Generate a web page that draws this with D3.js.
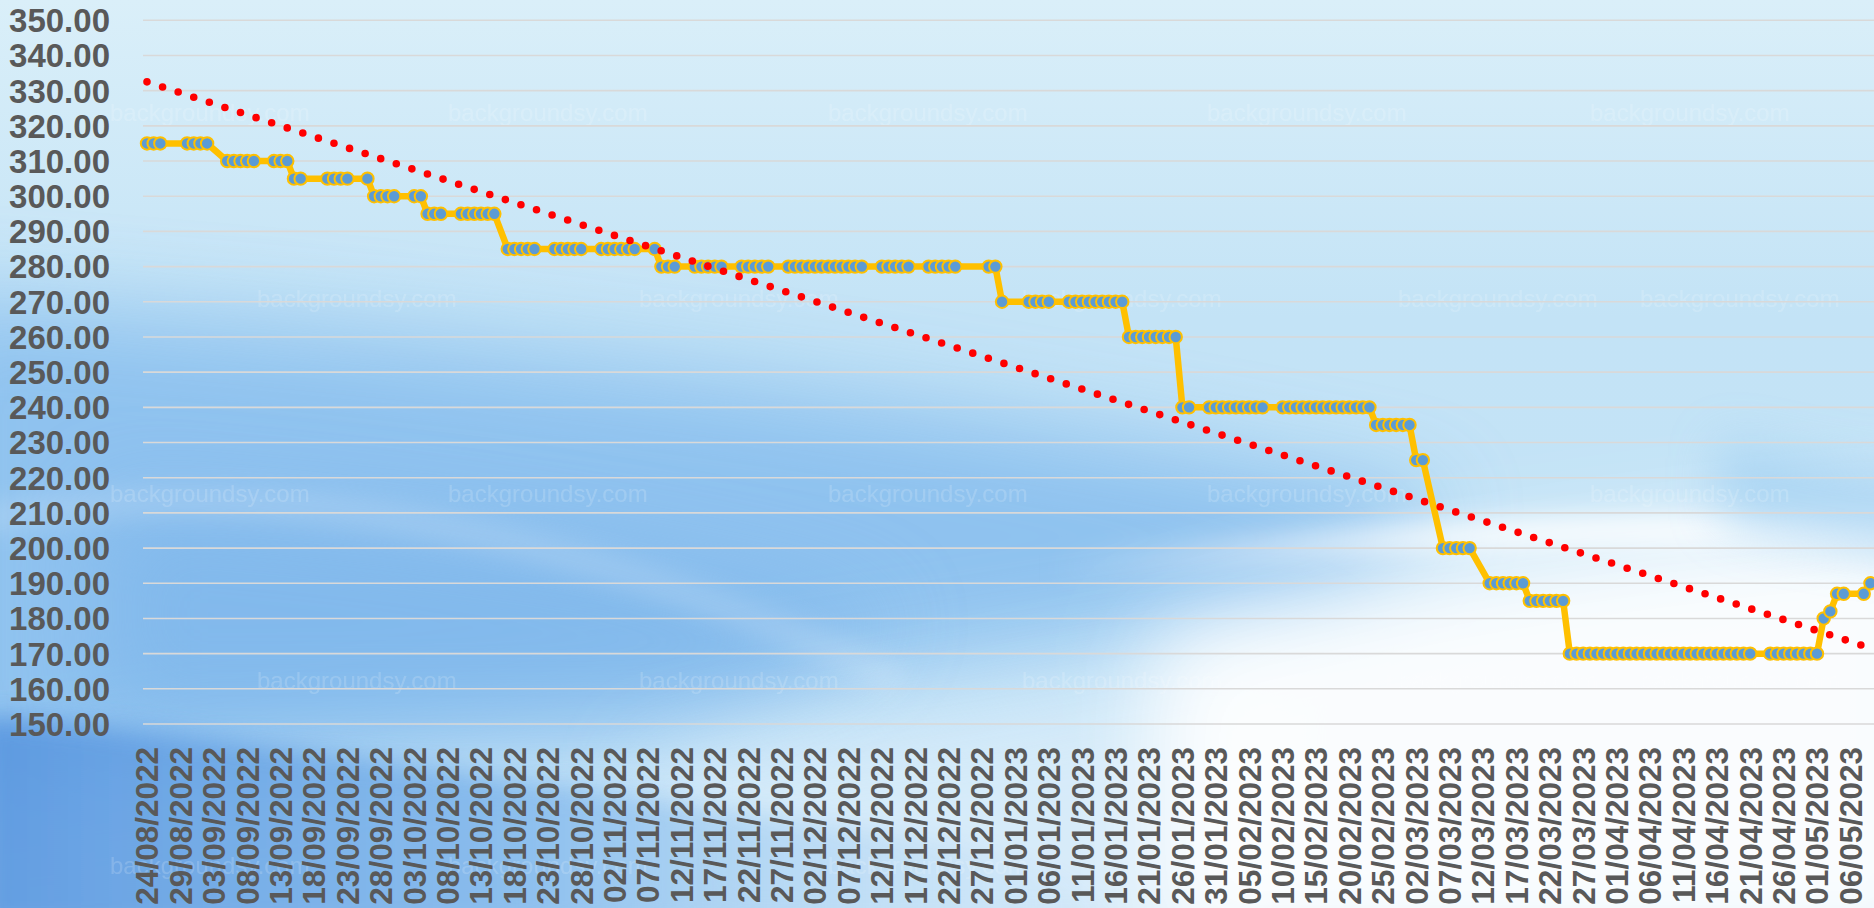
<!DOCTYPE html>
<html>
<head>
<meta charset="utf-8">
<script src="https://cdn.jsdelivr.net/npm/d3@7"></script>
<style>
  html, body { margin: 0; padding: 0; overflow: hidden; background: #cfe8f7; }
  svg { display: block; }
</style>
</head>
<body>
<div id="chart"></div>
<script>
const width = 1874;
const height = 908;

// price observations (dd/mm/yyyy) and their values
const priceDates = [
  "24/08/2022", "25/08/2022", "26/08/2022",
  "30/08/2022", "31/08/2022", "01/09/2022", "02/09/2022",
  "05/09/2022", "06/09/2022", "07/09/2022", "08/09/2022", "09/09/2022",
  "12/09/2022", "13/09/2022", "14/09/2022",
  "15/09/2022", "16/09/2022",
  "20/09/2022", "21/09/2022", "22/09/2022", "23/09/2022",
  "26/09/2022",
  "27/09/2022", "28/09/2022", "29/09/2022", "30/09/2022",
  "03/10/2022", "04/10/2022",
  "05/10/2022", "06/10/2022", "07/10/2022",
  "10/10/2022", "11/10/2022", "12/10/2022", "13/10/2022", "14/10/2022", "15/10/2022",
  "17/10/2022", "18/10/2022", "19/10/2022", "20/10/2022", "21/10/2022",
  "24/10/2022", "25/10/2022", "26/10/2022", "27/10/2022", "28/10/2022",
  "31/10/2022", "01/11/2022", "02/11/2022", "03/11/2022", "04/11/2022", "05/11/2022",
  "08/11/2022",
  "09/11/2022", "10/11/2022", "11/11/2022",
  "14/11/2022", "15/11/2022", "16/11/2022", "17/11/2022", "18/11/2022",
  "21/11/2022", "22/11/2022", "23/11/2022", "24/11/2022", "25/11/2022",
  "28/11/2022", "29/11/2022", "30/11/2022", "01/12/2022", "02/12/2022", "03/12/2022",
  "04/12/2022", "05/12/2022", "06/12/2022", "07/12/2022", "08/12/2022", "09/12/2022",
  "12/12/2022", "13/12/2022", "14/12/2022", "15/12/2022", "16/12/2022",
  "19/12/2022", "20/12/2022", "21/12/2022", "22/12/2022", "23/12/2022",
  "28/12/2022", "29/12/2022",
  "30/12/2022",
  "03/01/2023", "04/01/2023", "05/01/2023", "06/01/2023",
  "09/01/2023", "10/01/2023", "11/01/2023", "12/01/2023", "13/01/2023",
  "14/01/2023", "15/01/2023", "16/01/2023", "17/01/2023",
  "18/01/2023", "19/01/2023", "20/01/2023", "21/01/2023", "22/01/2023",
  "23/01/2023", "24/01/2023", "25/01/2023",
  "26/01/2023", "27/01/2023",
  "30/01/2023", "31/01/2023", "01/02/2023", "02/02/2023", "03/02/2023",
  "04/02/2023", "05/02/2023", "06/02/2023", "07/02/2023",
  "10/02/2023", "11/02/2023", "12/02/2023", "13/02/2023", "14/02/2023", "15/02/2023", "16/02/2023",
  "17/02/2023", "18/02/2023", "19/02/2023", "20/02/2023", "21/02/2023", "22/02/2023", "23/02/2023",
  "24/02/2023", "25/02/2023", "26/02/2023", "27/02/2023", "28/02/2023", "01/03/2023",
  "02/03/2023", "03/03/2023",
  "06/03/2023", "07/03/2023", "08/03/2023", "09/03/2023", "10/03/2023",
  "13/03/2023", "14/03/2023", "15/03/2023", "16/03/2023", "17/03/2023", "18/03/2023",
  "19/03/2023", "20/03/2023", "21/03/2023", "22/03/2023", "23/03/2023", "24/03/2023",
  "25/03/2023", "26/03/2023", "27/03/2023", "28/03/2023", "29/03/2023", "30/03/2023", "31/03/2023",
  "01/04/2023", "02/04/2023", "03/04/2023", "04/04/2023", "05/04/2023", "06/04/2023", "07/04/2023",
  "08/04/2023", "09/04/2023", "10/04/2023", "11/04/2023", "12/04/2023", "13/04/2023", "14/04/2023",
  "15/04/2023", "16/04/2023", "17/04/2023", "18/04/2023", "19/04/2023", "20/04/2023", "21/04/2023",
  "24/04/2023", "25/04/2023", "26/04/2023", "27/04/2023", "28/04/2023", "29/04/2023", "30/04/2023", "01/05/2023",
  "02/05/2023", "03/05/2023", "04/05/2023", "05/05/2023", "08/05/2023", "09/05/2023"
];

const priceValues = [
  315, 315, 315,
  315, 315, 315, 315,
  310, 310, 310, 310, 310,
  310, 310, 310,
  305, 305,
  305, 305, 305, 305,
  305,
  300, 300, 300, 300,
  300, 300,
  295, 295, 295,
  295, 295, 295, 295, 295, 295,
  285, 285, 285, 285, 285,
  285, 285, 285, 285, 285,
  285, 285, 285, 285, 285, 285,
  285,
  280, 280, 280,
  280, 280, 280, 280, 280,
  280, 280, 280, 280, 280,
  280, 280, 280, 280, 280, 280,
  280, 280, 280, 280, 280, 280,
  280, 280, 280, 280, 280,
  280, 280, 280, 280, 280,
  280, 280,
  270,
  270, 270, 270, 270,
  270, 270, 270, 270, 270,
  270, 270, 270, 270,
  260, 260, 260, 260, 260,
  260, 260, 260,
  240, 240,
  240, 240, 240, 240, 240,
  240, 240, 240, 240,
  240, 240, 240, 240, 240, 240, 240,
  240, 240, 240, 240, 240, 240, 240,
  235, 235, 235, 235, 235, 235,
  225, 225,
  200, 200, 200, 200, 200,
  190, 190, 190, 190, 190, 190,
  185, 185, 185, 185, 185, 185,
  170, 170, 170, 170, 170, 170, 170,
  170, 170, 170, 170, 170, 170, 170,
  170, 170, 170, 170, 170, 170, 170,
  170, 170, 170, 170, 170, 170, 170,
  170, 170, 170, 170, 170, 170, 170, 170,
  180, 182, 187, 187, 187, 190
];

const yTickValues = [150, 160, 170, 180, 190, 200, 210, 220, 230, 240, 250,
  260, 270, 280, 290, 300, 310, 320, 330, 340, 350];
const xLabelFirst = "24/08/2022";
const xLabelLast = "06/05/2023";
const xLabelStepDays = 5;

const watermarkRowsA = [121, 502, 874];
const watermarkColsA = [110, 448, 828, 1207, 1590];
const watermarkRowsB = [307, 689];
const watermarkColsB = [257, 639, 1022, 1398, 1640];

const parseDay = d3.utcParse("%d/%m/%Y");
const fmtDay = d3.utcFormat("%d/%m/%Y");

const data = priceDates.map((s, i) => ({ date: parseDay(s), value: priceValues[i] }));

const x = d3.scaleUtc()
  .domain([parseDay(xLabelFirst), parseDay(xLabelLast)])
  .range([147, 1850.4]);

const y = d3.scaleLinear()
  .domain([150, 350])
  .range([724, 20.3]);

const svg = d3.select('#chart')
  .append('svg')
  .attr('width', width)
  .attr('height', height);

// ---- background picture (soft blue swooshes) ----
const defs = svg.append('defs');

const base = defs.append('linearGradient').attr('id', 'bgBase')
  .attr('x1', 0).attr('y1', 0).attr('x2', 0).attr('y2', 1);
base.append('stop').attr('offset', '0%').attr('stop-color', '#daeff9');
base.append('stop').attr('offset', '35%').attr('stop-color', '#c3e3f6');
base.append('stop').attr('offset', '100%').attr('stop-color', '#c4e3f7');

const darkWave = defs.append('linearGradient').attr('id', 'darkWave')
  .attr('x1', 0).attr('y1', 0).attr('x2', 1).attr('y2', 0);
darkWave.append('stop').attr('offset', '0%').attr('stop-color', '#5795df').attr('stop-opacity', 1);
darkWave.append('stop').attr('offset', '45%').attr('stop-color', '#78b1ea').attr('stop-opacity', 0.85);
darkWave.append('stop').attr('offset', '100%').attr('stop-color', '#a9d3f3').attr('stop-opacity', 0);

const streak = defs.append('linearGradient').attr('id', 'streak')
  .attr('gradientUnits', 'userSpaceOnUse')
  .attr('x1', 1050).attr('y1', 0).attr('x2', 1500).attr('y2', 0);
streak.append('stop').attr('offset', '0%').attr('stop-color', '#ffffff').attr('stop-opacity', 0);
streak.append('stop').attr('offset', '100%').attr('stop-color', '#ffffff').attr('stop-opacity', 0.8);

const soft = (id, dev) => defs.append('filter').attr('id', id)
  .attr('filterUnits', 'userSpaceOnUse')
  .attr('x', -300).attr('y', -300).attr('width', 2500).attr('height', 1500)
  .append('feGaussianBlur').attr('stdDeviation', dev);
soft('soft40', 45);
soft('soft25', 25);
soft('soft12', 12);

const bg = svg.append('g').attr('class', 'background');
bg.append('rect').attr('width', width).attr('height', height).attr('fill', 'url(#bgBase)');
// medium blue body, lower-left to middle
bg.append('path')
  .attr('d', 'M-80,300 C400,330 900,390 1450,500 L1350,600 C1000,650 600,720 -80,800 Z')
  .attr('fill', '#86bdee').attr('opacity', 0.85).attr('filter', 'url(#soft40)');
bg.append('path')
  .attr('d', 'M100,500 C400,520 700,560 900,620 L700,720 L100,720 Z')
  .attr('fill', '#7ab4ea').attr('opacity', 0.6).attr('filter', 'url(#soft40)');
// light lift along the bottom middle
bg.append('path')
  .attr('d', 'M650,760 C900,730 1100,690 1300,640 L1300,960 L650,960 Z')
  .attr('fill', '#e2f1fb').attr('opacity', 0.6).attr('filter', 'url(#soft40)');
// white swoosh on the right
bg.append('path')
  .attr('d', 'M1150,640 C1400,570 1650,530 1950,510 L1950,960 L1150,960 Z')
  .attr('fill', '#ffffff').attr('opacity', 0.92).attr('filter', 'url(#soft40)');
bg.append('path')
  .attr('d', 'M1050,570 C1350,535 1650,522 1950,535')
  .attr('fill', 'none').attr('stroke', 'url(#streak)').attr('stroke-width', 30)
  .attr('filter', 'url(#soft12)');
// blue band at far right
bg.append('path')
  .attr('d', 'M1720,440 C1800,460 1860,470 1950,480 L1950,560 C1860,545 1800,540 1720,520 Z')
  .attr('fill', '#9fcff2').attr('opacity', 0.7).attr('filter', 'url(#soft25)');
// light highlight curve in the left
bg.append('path')
  .attr('d', 'M-20,520 C250,470 550,520 900,680')
  .attr('fill', 'none').attr('stroke', '#ffffff').attr('stroke-width', 30)
  .attr('opacity', 0.16).attr('filter', 'url(#soft12)');
// darker wave at bottom-left
bg.append('path')
  .attr('d', 'M-20,716 C250,735 600,790 900,835 C1000,850 1080,880 1130,930 L-20,930 Z')
  .attr('fill', 'url(#darkWave)').attr('opacity', 0.9).attr('filter', 'url(#soft12)');

const wm = bg.append('g')
  .attr('fill', '#ffffff')
  .attr('opacity', 0.16)
  .style('font-family', '"Liberation Sans Narrow", "Liberation Sans", Arial, sans-serif')
  .style('font-size', '24px');
watermarkRowsA.forEach((ry) => watermarkColsA.forEach((cx) => {
  wm.append('text').attr('x', cx).attr('y', ry).text('backgroundsy.com');
}));
watermarkRowsB.forEach((ry) => watermarkColsB.forEach((cx) => {
  wm.append('text').attr('x', cx).attr('y', ry).text('backgroundsy.com');
}));

// ---- gridlines + y labels ----
svg.append('g')
  .attr('class', 'grid')
  .selectAll('line')
  .data(yTickValues)
  .enter()
  .append('line')
  .attr('x1', 143)
  .attr('x2', width)
  .attr('y1', (d) => y(d))
  .attr('y2', (d) => y(d))
  .attr('stroke', '#d9d9d9')
  .attr('stroke-width', 1.6);

svg.append('g')
  .attr('class', 'y-labels')
  .selectAll('text')
  .data(yTickValues)
  .enter()
  .append('text')
  .attr('x', 110)
  .attr('y', (d) => y(d))
  .attr('dy', '0.36em')
  .attr('text-anchor', 'end')
  .attr('fill', '#595959')
  .style('font-family', '"Liberation Sans", Arial, sans-serif')
  .style('font-weight', 'bold')
  .style('font-size', '33px')
  .text((d) => d3.format('.2f')(d));

// ---- x labels every 5 days ----
const labelDays = d3.utcDay.range(parseDay(xLabelFirst), d3.utcDay.offset(parseDay(xLabelLast), 1))
  .filter((d, i) => i % xLabelStepDays === 0);

svg.append('g')
  .attr('class', 'x-labels')
  .selectAll('text')
  .data(labelDays)
  .enter()
  .append('text')
  .attr('transform', (d) => `translate(${x(d)}, 747) rotate(-90)`)
  .attr('dy', '0.36em')
  .attr('text-anchor', 'end')
  .attr('fill', '#595959')
  .style('font-family', '"Liberation Sans", Arial, sans-serif')
  .style('font-weight', 'bold')
  .style('font-size', '31.5px')
  .text((d) => fmtDay(d));

// ---- price series ----
const line = d3.line()
  .x((d) => x(d.date))
  .y((d) => y(d.value));

svg.append('path')
  .datum(data)
  .attr('fill', 'none')
  .attr('stroke', '#ffc000')
  .attr('stroke-width', 6.5)
  .attr('stroke-linejoin', 'round')
  .attr('d', line);

svg.append('g')
  .attr('class', 'markers')
  .selectAll('circle')
  .data(data)
  .enter()
  .append('circle')
  .attr('cx', (d) => x(d.date))
  .attr('cy', (d) => y(d.value))
  .attr('r', 6.2)
  .attr('fill', '#5b9bd5')
  .attr('stroke', '#ffc000')
  .attr('stroke-width', 2);

// ---- linear trendline (least squares on day number) ----
const t0 = data[0].date;
const pts = data.map((d) => [d3.utcDay.count(t0, d.date), d.value]);
const mx = d3.mean(pts, (p) => p[0]);
const my = d3.mean(pts, (p) => p[1]);
const slope = d3.sum(pts, (p) => (p[0] - mx) * (p[1] - my)) / d3.sum(pts, (p) => (p[0] - mx) ** 2);
const intercept = my - slope * mx;
const lastDay = pts[pts.length - 1][0];
const trend = [0, lastDay].map((k) => ({ date: d3.utcDay.offset(t0, k), value: intercept + slope * k }));

svg.append('path')
  .datum(trend)
  .attr('fill', 'none')
  .attr('stroke', '#ff0000')
  .attr('stroke-width', 7.6)
  .attr('stroke-linecap', 'round')
  .attr('stroke-dasharray', '0 16.4')
  .attr('d', line);
</script>
</body>
</html>
